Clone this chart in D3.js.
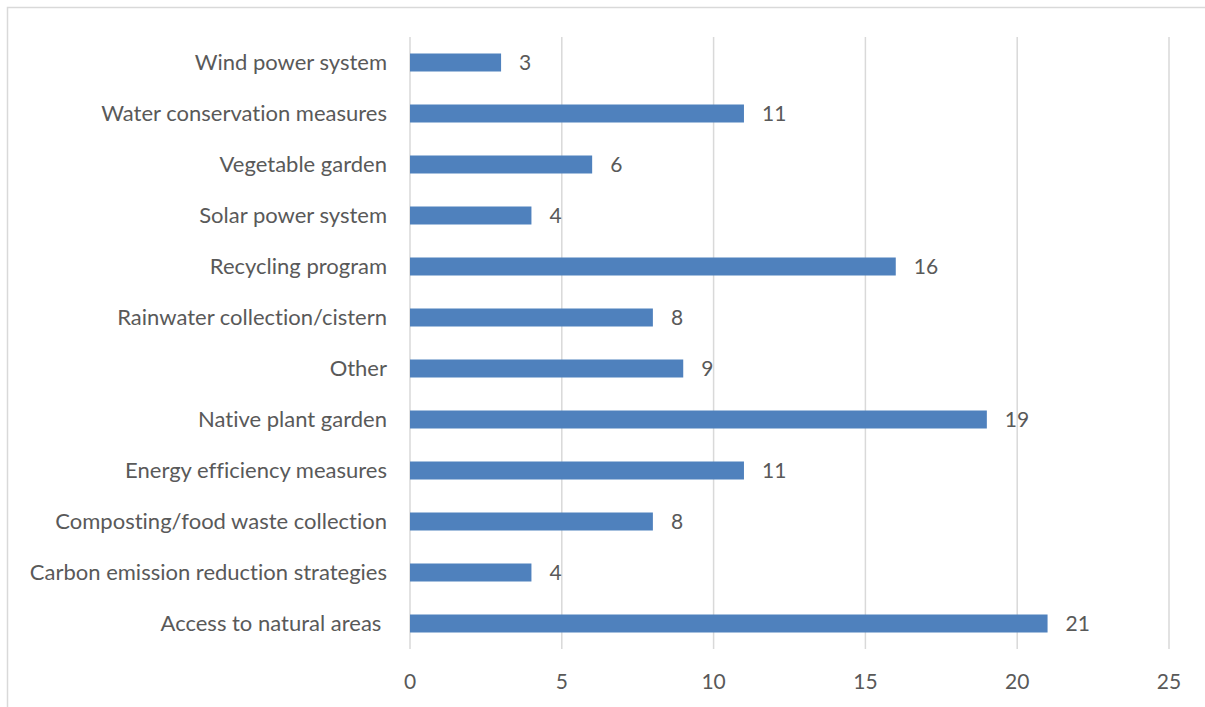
<!DOCTYPE html>
<html>
<head>
<meta charset="utf-8">
<script src="https://cdn.jsdelivr.net/npm/d3@7"></script>
<style>
  body { margin: 0; background: #fff; }
  svg text { font-family: Lato, "Open Sans", sans-serif; fill: #595959; white-space: pre; font-variant-ligatures: none; }
</style>
</head>
<body>
<svg id="chart" width="1205" height="707"></svg>
<script>
// categories top to bottom, as in the picture
const categories = [
  "Wind power system",
  "Water conservation measures",
  "Vegetable garden",
  "Solar power system",
  "Recycling program",
  "Rainwater collection/cistern",
  "Other",
  "Native plant garden",
  "Energy efficiency measures",
  "Composting/food waste collection",
  "Carbon emission reduction strategies",
  "Access to natural areas "
];
const counts = [3, 11, 6, 4, 16, 8, 9, 19, 11, 8, 4, 21];
const xTicks = [0, 5, 10, 15, 20, 25];

const margin = { top: 37, right: 36, bottom: 58, left: 410 };
const width = 1205;
const height = 707;

const svg = d3.select("#chart");

// chart frame (runs off the right and bottom edge)
svg.append("rect")
  .attr("x", 7.5)
  .attr("y", 7.5)
  .attr("width", 1205)
  .attr("height", 720)
  .attr("fill", "none")
  .attr("stroke", "#d9d9d9")
  .attr("stroke-width", 1.5);

const x = d3.scaleLinear()
  .domain([0, 25])
  .range([margin.left, width - margin.right]);

const y = d3.scaleBand()
  .domain(categories)
  .range([margin.top, height - margin.bottom])
  .paddingInner(0.647)
  .paddingOuter(0.3235);

// vertical gridlines
svg.append("g")
  .selectAll("line")
  .data(xTicks)
  .join("line")
    .attr("x1", d => x(d))
    .attr("x2", d => x(d))
    .attr("y1", margin.top)
    .attr("y2", height - margin.bottom)
    .attr("stroke", "#d9d9d9")
    .attr("stroke-width", 1.5);

// bars
svg.append("g")
  .selectAll("rect")
  .data(categories)
  .join("rect")
    .attr("x", x(0))
    .attr("y", d => y(d))
    .attr("width", (d, i) => x(counts[i]) - x(0))
    .attr("height", y.bandwidth())
    .attr("fill", "#4f81bd");

// value labels
svg.append("g")
  .selectAll("text")
  .data(categories)
  .join("text")
    .attr("x", (d, i) => x(counts[i]) + 18)
    .attr("y", d => y(d) + y.bandwidth() / 2)
    .attr("dy", "0.36em")
    .style("font-size", "21px")
    .text((d, i) => counts[i]);

// category labels
svg.append("g")
  .selectAll("text")
  .data(categories)
  .join("text")
    .attr("x", margin.left - 23)
    .attr("y", d => y(d) + y.bandwidth() / 2)
    .attr("dy", "0.36em")
    .attr("text-anchor", "end")
    .style("font-size", "22px")
    .text(d => d);

// x tick labels
svg.append("g")
  .selectAll("text")
  .data(xTicks)
  .join("text")
    .attr("x", d => x(d))
    .attr("y", 681)
    .attr("dy", "0.36em")
    .attr("text-anchor", "middle")
    .style("font-size", "21px")
    .text(d => d);
</script>
</body>
</html>
